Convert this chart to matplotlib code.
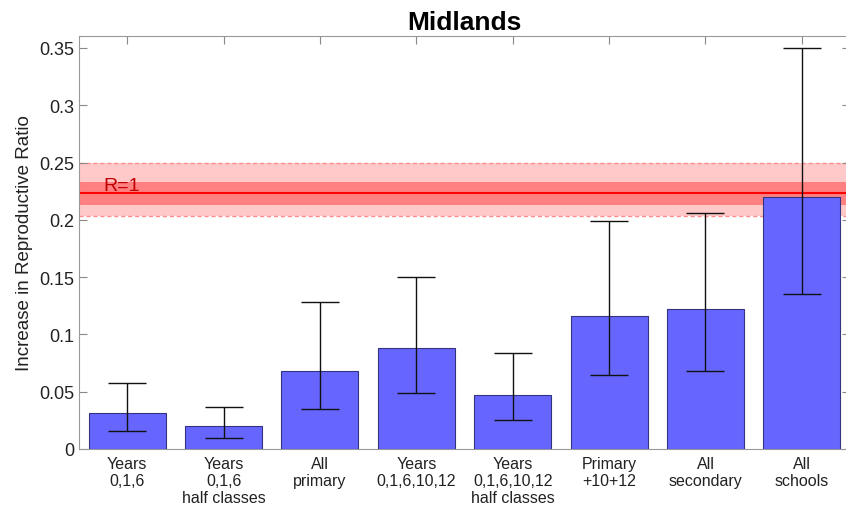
import matplotlib
matplotlib.use("Agg")
from matplotlib import pyplot as plt
import numpy as np

plt.rcParams['font.family'] = ['Liberation Sans', 'DejaVu Sans']

labels = ['Years\n0,1,6', 'Years\n0,1,6\nhalf classes', 'All\nprimary',
          'Years\n0,1,6,10,12', 'Years\n0,1,6,10,12\nhalf classes',
          'Primary\n+10+12', 'All\nsecondary', 'All\nschools']
means = [0.0314, 0.0198, 0.068, 0.088, 0.047, 0.116, 0.122, 0.2203]
lower = [0.016, 0.0099, 0.0346, 0.0489, 0.025, 0.065, 0.0683, 0.1353]
upper = [0.0578, 0.0369, 0.128, 0.150, 0.0838, 0.199, 0.206, 0.3503]

# R=1 threshold with inner/outer uncertainty bands
r1_line = 0.2234
r1_inner = (0.2129, 0.2327)
r1_outer = (0.2033, 0.2496)

fig = plt.figure(figsize=(8.46, 5.06), dpi=100)
ax = fig.add_axes([79/846, 56/506, 771/846, 413/506])

xs = np.arange(1, len(means) + 1)
ax.axhspan(*r1_outer, color='#ffc9c9', lw=0, zorder=1)
ax.axhspan(*r1_inner, color='#ff8080', lw=0, zorder=1)
for y in r1_outer:
    ax.axhline(y, color='#ff8c8c', lw=1, ls=(0, (3, 2)), zorder=1)
ax.axhline(r1_line, color='#ff0000', lw=1.5, zorder=2)
ax.text(0.75, 0.2263, 'R=1', color='#c00000',
        fontsize=14, va='baseline', ha='left', zorder=3)

m = np.array(means)
err = [m - np.array(lower), np.array(upper) - m]
ax.bar(xs, means, 0.8, color='#6666ff', edgecolor='#333380', lw=0.8, zorder=3)
ax.errorbar(xs, means, yerr=err, fmt='none', ecolor='#111111', elinewidth=1,
            capsize=14, capthick=1, zorder=4)

ax.set_xlim(0.5, 8.5)
ax.set_ylim(0, 0.3604)
ax.set_xticks(xs)
ax.set_xticklabels(labels, fontsize=11.5, linespacing=1.15)
ax.set_yticks([0, 0.05, 0.1, 0.15, 0.2, 0.25, 0.3, 0.35])
ax.set_yticklabels(['0', '0.05', '0.1', '0.15', '0.2', '0.25', '0.3', '0.35'],
                   fontsize=13)
ax.tick_params(direction='in', length=6, color='#888888', top=True, right=True,
               labelcolor='#222222')
ax.tick_params(axis='x', pad=5)
for s in ax.spines.values():
    s.set_color('#999999')
ax.set_ylabel('Increase in Reproductive Ratio', fontsize=13.5, color='#222222')
ax.set_title('Midlands', fontsize=19, fontweight='bold', pad=5)

fig.savefig('out.png', dpi=100)
